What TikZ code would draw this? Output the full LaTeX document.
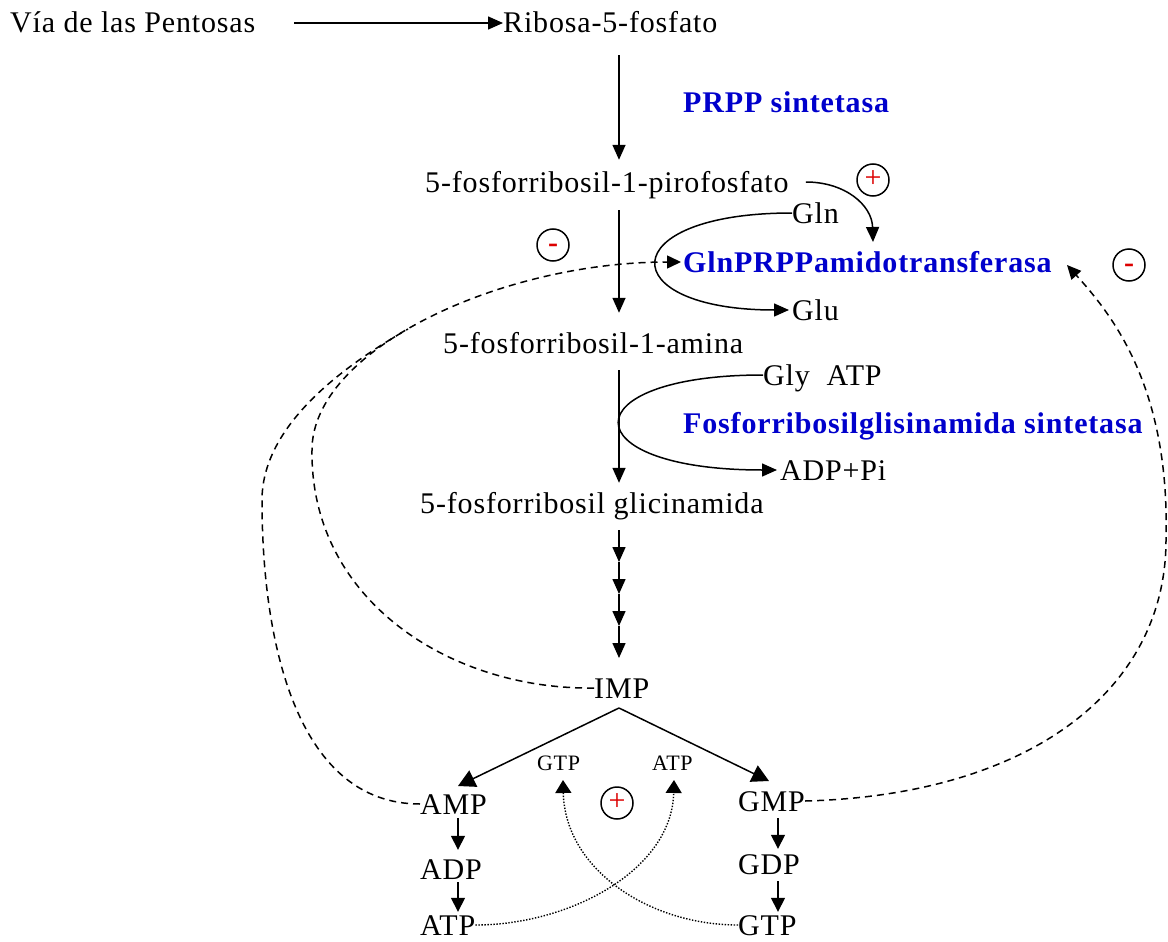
\documentclass[tikz,border=0pt]{standalone}
\usepackage{fontspec}
\setmainfont{Liberation Serif}[LetterSpace=2.8]
\usetikzlibrary{arrows.meta,calc}
\definecolor{enzblue}{RGB}{0,0,204}
\definecolor{sgnred}{RGB}{220,0,0}
\begin{document}
\begin{tikzpicture}[x=1pt,y=-1pt,
 lbl/.style={font=\fontsize{30}{34}\selectfont, inner sep=0pt, anchor=base west, text height=20pt, text depth=0pt},
 enz/.style={lbl, font=\fontsize{30}{34}\selectfont\bfseries, text=enzblue},
 smalllbl/.style={font=\fontsize{22}{26}\selectfont, inner sep=0pt, anchor=base west, text height=15pt, text depth=0pt},
 sgn/.style={circle, draw, line width=1.5pt, minimum size=32pt, inner sep=0pt, text=sgnred, font=\fontsize{30}{30}\selectfont, text height=14pt, text depth=0pt},
 conn/.style={line width=1.5pt},
 arr/.style={conn, -{Triangle[length=15pt,width=13pt]}},
 arrsm/.style={conn, -{Triangle[length=14pt,width=14pt]}},
 bigarr/.style={conn, -{Triangle[length=17pt,width=18pt]}},
 dasharr/.style={conn, dash pattern=on 7pt off 5pt, -{Triangle[length=14pt,width=13pt]}},
 dashln/.style={conn, dash pattern=on 7pt off 5pt},
 dotarr/.style={line width=1.4pt, dash pattern=on 1.4pt off 1.6pt, -{Triangle[length=13pt,width=16pt]}},
]
\useasboundingbox (0,0) rectangle (1168,942);

% nodes
\node[lbl] (via) at (10,33) {Vía de las Pentosas};
\node[lbl] (ribosa) at (503,33) {Ribosa-5-fosfato};
\node[enz] (prpps) at (683,113) {PRPP sintetasa};
\node[lbl] (piro) at (425,192) {5-fosforribosil-1-pirofosfato};
\node[lbl] (gln) at (792,223) {Gln};
\node[enz] (gpat) at (683,272) {GlnPRPPamidotransferasa};
\node[lbl] (glu) at (792,320) {Glu};
\node[lbl] (amina) at (443,353) {5-fosforribosil-1-amina};
\node[lbl] (gly) at (763,385) {Gly~~ATP};
\node[enz] (fgs) at (683,433) {Fosforribosilglisinamida sintetasa};
\node[lbl] (adppi) at (780,480) {ADP+Pi};
\node[lbl] (glic) at (420,513) {5-fosforribosil glicinamida};
\node[lbl] (imp) at (594,698) {IMP};
\node[lbl] (amp) at (420,814) {AMP};
\node[lbl] (adp) at (420,879) {ADP};
\node[lbl] (atpA) at (420,935) {ATP};
\node[lbl] (gmp) at (738,811) {GMP};
\node[lbl] (gdp) at (738,874) {GDP};
\node[lbl] (gtpG) at (738,935) {GTP};
\node[smalllbl] (sgtp) at (537,770) {GTP};
\node[smalllbl] (satp) at (652,770) {ATP};
\node[sgn] (p1) at (873,180) {+};
\node[sgn] (m1) at (553,245) {\bfseries -};
\node[sgn] (m2) at (1129,265) {\bfseries -};
\node[sgn] (p2) at (617,803) {+};

% coordinates
\coordinate (ax) at (619,0);
\coordinate (c0) at (619,530);
\coordinate (c1) at (619,562);
\coordinate (c2) at (619,594);
\coordinate (c3) at (619,626);
\coordinate (c4) at (619,658);
\coordinate (apex) at (619,708);
\coordinate (ampTip) at (458,786);
\coordinate (gmpTip) at (769,781);
\coordinate (acol) at (458,0);
\coordinate (gcol) at (778,0);
\coordinate (satpTip) at (674,780);
\coordinate (sgtpTip) at (563,780);
\coordinate (actTip) at (873,242);
\coordinate (ip1) at (312,450);
\coordinate (op1) at (262,500);
\coordinate (jn) at (408,329);
\coordinate (rp1) at (1166,540);
\coordinate (rTip) at (1067,265);

% main pathway
\draw[arr, shorten <=39pt] (via.east) -- (ribosa.west);
\draw[arr, shorten <=22pt, shorten >=12pt] (ribosa.south -| ax) -- (piro.north -| ax);
\draw[arr, shorten <=18pt, shorten >=20pt] (piro.south -| ax) -- (amina.north -| ax);
\draw[arr, shorten <=17pt, shorten >=10pt] (amina.south -| ax) -- (glic.north -| ax);
\draw[arr] (c0) -- (c1);
\draw[arr] (c1) -- (c2);
\draw[arr] (c2) -- (c3);
\draw[arr] (c3) -- (c4);
\draw[bigarr] (apex) -- (ampTip);
\draw[bigarr] (apex) -- (gmpTip);
\draw[arrsm, shorten <=4pt, shorten >=9pt] (amp.south -| acol) -- (adp.north -| acol);
\draw[arrsm, shorten <=3pt, shorten >=3pt] (adp.south -| acol) -- (atpA.north -| acol);
\draw[arrsm, shorten <=7pt, shorten >=5pt] (gmp.south -| gcol) -- (gdp.north -| gcol);
\draw[arrsm, shorten <=7pt, shorten >=3pt] (gdp.south -| gcol) -- (gtpG.north -| gcol);

% side reactions
\draw[arr, shorten >=3pt] (gln.west) .. controls (612,213) and (612,310) .. (glu.west);
\draw[arr, shorten >=3pt] (gly.west) .. controls (570,375) and (570,470) .. (adppi.west);
\draw[arr, shorten <=17pt] (piro.east) .. controls (845,182) and (872,205) .. (actTip);

% feedback
\draw[dasharr, shorten >=2pt] (imp.west) .. controls (450,690) and (310,600) .. (ip1) .. controls (312,350) and (500,262) .. (gpat.west);
\draw[dashln] (amp.west) .. controls (300,804) and (262,650) .. (op1) .. controls (262,420) and (356,359) .. (jn);
\draw[dasharr] (gmp.east) .. controls (1030,795) and (1166,690) .. (rp1) .. controls (1170,390) and (1115,318) .. (rTip);

% dotted activation
\draw[dotarr] (atpA.east) .. controls (570,925) and (672,870) .. (satpTip);
\draw[dotarr] (gtpG.west) .. controls (650,925) and (565,870) .. (sgtpTip);
\end{tikzpicture}
\end{document}
